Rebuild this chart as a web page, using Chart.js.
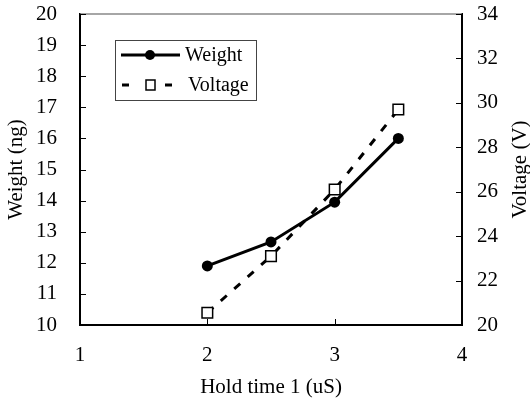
<!DOCTYPE html>
<html><head><meta charset="utf-8">
<script src="https://cdn.jsdelivr.net/npm/chart.js@4"></script>
<style>html,body{margin:0;padding:0;background:#fff}#wrap{width:530px;height:400px}</style>
</head><body><div id="wrap"><canvas id="c" width="530" height="400"></canvas></div>
<script>
const holdTime = [2, 2.5, 3, 3.5];
const weight = [11.9, 12.67, 13.95, 16.0];
const voltage = [20.55, 23.1, 26.1, 29.7];
const xTicks = [1, 2, 3, 4];
const weightTicks = [10, 11, 12, 13, 14, 15, 16, 17, 18, 19, 20];
const voltageTicks = [20, 22, 24, 26, 28, 30, 32, 34];
const seriesNames = ['Weight', 'Voltage'];
const axisTitles = {x: 'Hold time 1 (uS)', y: 'Weight (ng)', y1: 'Voltage (V)'};

const FONT = 'Liberation Serif';
const FS = 21;
Chart.defaults.font.family = FONT;
Chart.defaults.color = '#000';

const extras = {
  id: 'extras',
  afterDraw(chart) {
    const ctx = chart.ctx, a = chart.chartArea;
    ctx.save();
    // top frame line
    ctx.strokeStyle = '#888'; ctx.lineWidth = 1.5;
    ctx.beginPath(); ctx.moveTo(a.left, a.top); ctx.lineTo(a.right, a.top); ctx.stroke();
    // inward tick marks
    ctx.strokeStyle = '#000'; ctx.lineWidth = 1;
    const L = 6;
    const sx = chart.scales.x, sy = chart.scales.y, sy1 = chart.scales.y1;
    sx.ticks.forEach(t => { const p = Math.round(sx.getPixelForValue(t.value)) + 0.5; ctx.beginPath(); ctx.moveTo(p, a.bottom); ctx.lineTo(p, a.bottom - L); ctx.stroke(); });
    sy.ticks.forEach(t => { const p = Math.round(sy.getPixelForValue(t.value)) + 0.5; ctx.beginPath(); ctx.moveTo(a.left, p); ctx.lineTo(a.left + L, p); ctx.stroke(); });
    sy1.ticks.forEach(t => { const p = Math.round(sy1.getPixelForValue(t.value)) + 0.5; ctx.beginPath(); ctx.moveTo(a.right, p); ctx.lineTo(a.right - L, p); ctx.stroke(); });
    // right axis title, reading bottom to top
    ctx.save();
    ctx.translate(520, (a.top + a.bottom) / 2);
    ctx.rotate(-Math.PI / 2);
    ctx.fillStyle = '#000'; ctx.font = FS + 'px "' + FONT + '"'; ctx.textAlign = 'center'; ctx.textBaseline = 'middle';
    ctx.fillText(axisTitles.y1, 0, 0);
    ctx.restore();
    // legend box
    const bx = a.left + 35, by = a.top + 26, bw = 141, bh = 60;
    ctx.fillStyle = '#fff'; ctx.fillRect(bx, by, bw, bh);
    ctx.strokeStyle = '#444'; ctx.lineWidth = 1; ctx.strokeRect(bx + 0.5, by + 0.5, bw, bh);
    const r0 = by + 15, r1 = by + 45;
    ctx.strokeStyle = '#000'; ctx.lineWidth = 3;
    ctx.beginPath(); ctx.moveTo(bx + 6, r0); ctx.lineTo(bx + 65, r0); ctx.stroke();
    ctx.fillStyle = '#000'; ctx.beginPath(); ctx.arc(bx + 35, r0, 5, 0, Math.PI * 2); ctx.fill();
    ctx.beginPath(); ctx.moveTo(bx + 7, r1); ctx.lineTo(bx + 14, r1); ctx.stroke();
    ctx.beginPath(); ctx.moveTo(bx + 50, r1); ctx.lineTo(bx + 57, r1); ctx.stroke();
    ctx.fillStyle = '#fff'; ctx.fillRect(bx + 31, r1 - 5, 9, 10);
    ctx.lineWidth = 1.5; ctx.strokeRect(bx + 31, r1 - 5, 9, 10);
    ctx.fillStyle = '#000'; ctx.font = '20px "' + FONT + '"'; ctx.textBaseline = 'middle'; ctx.textAlign = 'left';
    ctx.fillText(seriesNames[0], bx + 70, r0 + 1);
    ctx.fillText(seriesNames[1], bx + 73, r1 + 1);
    ctx.restore();
  }
};

new Chart(document.getElementById('c'), {
  type: 'scatter',
  data: {
    datasets: [
      {label: seriesNames[0], data: holdTime.map((x, i) => ({x, y: weight[i]})), yAxisID: 'y', showLine: true,
       borderColor: '#000', backgroundColor: '#000', borderWidth: 3, pointRadius: 5.5, pointStyle: 'circle', pointBorderWidth: 0},
      {label: seriesNames[1], data: holdTime.map((x, i) => ({x, y: voltage[i]})), yAxisID: 'y1', showLine: true,
       borderColor: '#000', backgroundColor: '#fff', borderWidth: 3, borderDash: [8, 10], pointRadius: 7.5, pointStyle: 'rect', pointBorderWidth: 1.5, pointBorderColor: '#000', pointBackgroundColor: '#fff'}
    ]
  },
  options: {
    responsive: false, animation: false,
    layout: {padding: {top: 14, left: 0, right: 0, bottom: 0}},
    plugins: {legend: {display: false}, tooltip: {enabled: false}},
    scales: {
      x: {type: 'linear', min: 1, max: 4,
        afterBuildTicks: s => { s.ticks = xTicks.map(v => ({value: v})); },
        afterFit: s => { s.height = 75; s.paddingLeft = 0; s.paddingRight = 0; },
        grid: {display: false, drawTicks: false},
        border: {display: true, color: '#000', width: 2},
        ticks: {padding: 18, font: {size: FS}},
        title: {display: true, text: axisTitles.x, font: {size: FS}, padding: {top: 0, bottom: 0}}},
      y: {type: 'linear', position: 'left', min: 10, max: 20,
        afterBuildTicks: s => { s.ticks = weightTicks.map(v => ({value: v})); },
        afterFit: s => { s.width = 80; s.paddingTop = 0; s.paddingBottom = 0; },
        grid: {display: false, drawTicks: false},
        border: {display: true, color: '#000', width: 2},
        ticks: {padding: 23, font: {size: FS}},
        title: {display: true, text: axisTitles.y, font: {size: FS}, padding: {top: 4, bottom: 0}}},
      y1: {type: 'linear', position: 'right', min: 20, max: 34,
        afterBuildTicks: s => { s.ticks = voltageTicks.map(v => ({value: v})); },
        afterFit: s => { s.width = 68; s.paddingTop = 0; s.paddingBottom = 0; },
        grid: {display: false, drawTicks: false},
        border: {display: true, color: '#000', width: 2},
        ticks: {padding: 15, font: {size: FS}},
        title: {display: false}}
    }
  },
  plugins: [extras]
});
</script></body></html>
